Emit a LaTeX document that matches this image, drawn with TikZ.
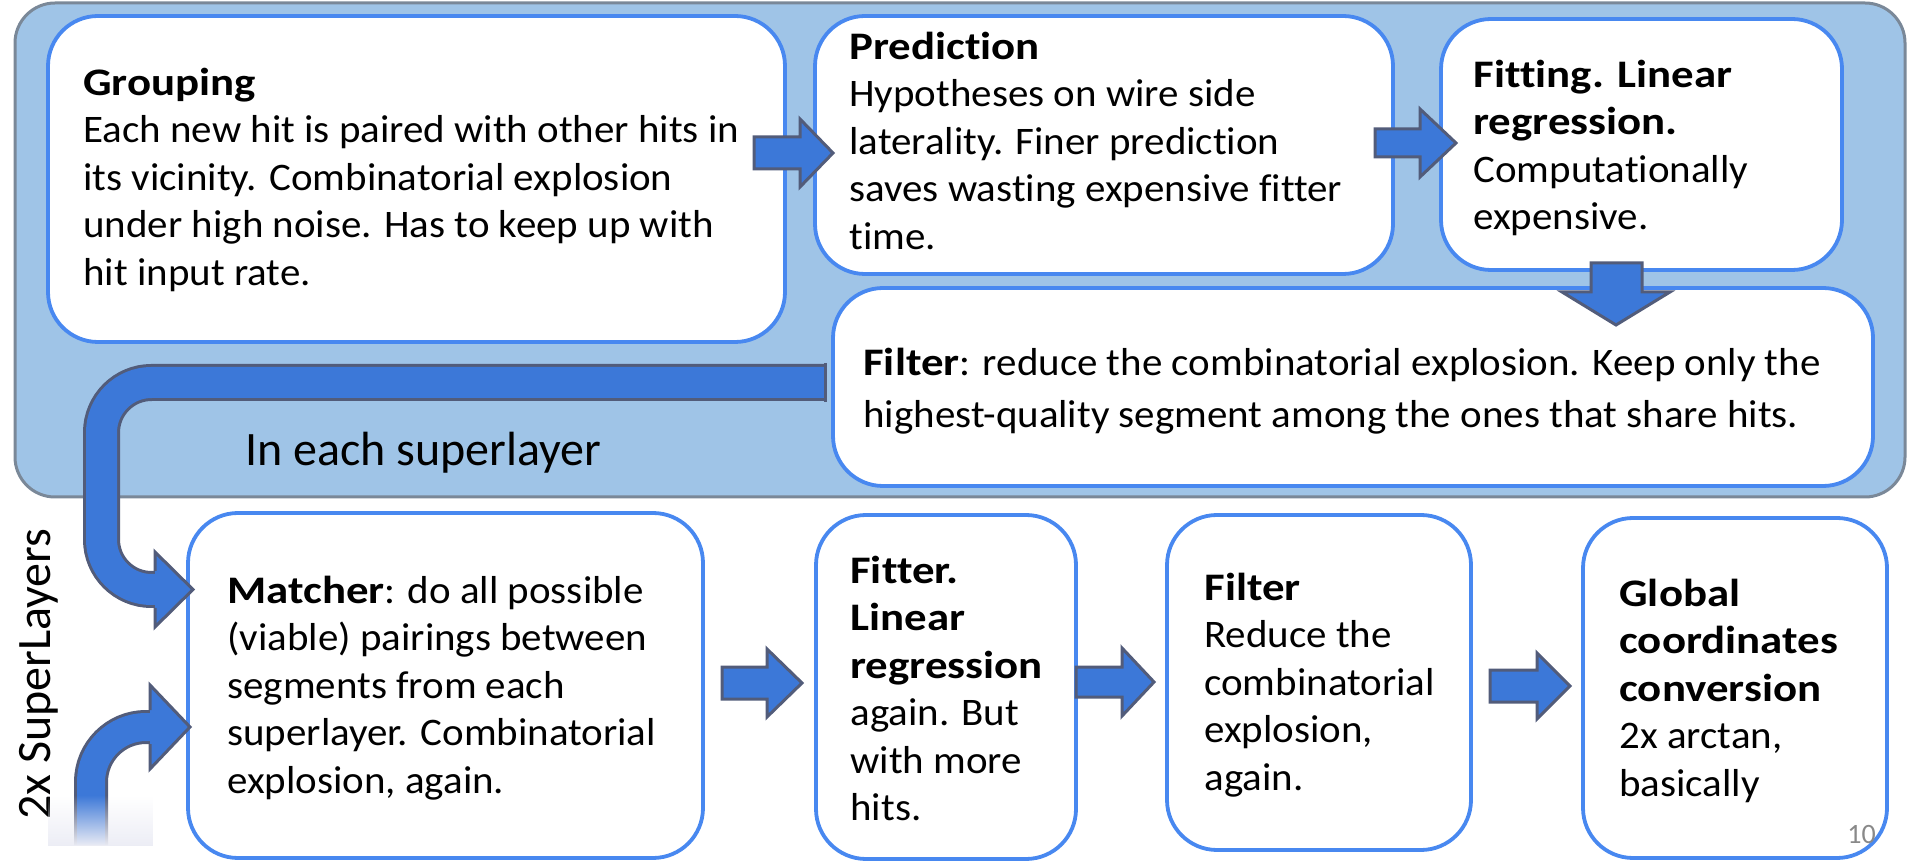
\documentclass[tikz,border=0pt]{standalone}
\usepackage{fontspec}
\setmainfont{Carlito}[FakeStretch=1.05,Ligatures=NoCommon]
\newfontfamily\bcar{Carlito}[FakeStretch=1.15,Ligatures=NoCommon]
\newfontfamily\pcar{Carlito}[Ligatures=NoCommon]
\newcommand{\B}[1]{{\bcar\bfseries #1}}
\usetikzlibrary{fadings}
\definecolor{panelfill}{RGB}{159,196,231}
\definecolor{paneldraw}{RGB}{122,136,152}
\definecolor{boxdraw}{RGB}{72,136,240}
\definecolor{arrfill}{RGB}{60,120,216}
\definecolor{arrdraw}{RGB}{82,92,122}
\definecolor{fadecol}{RGB}{236,237,245}
\definecolor{pagenum}{RGB}{137,137,137}
\newcommand{\fl}{\rule{0pt}{17pt}}
\newcommand{\harr}[6]{\filldraw[blockarr] (#1,#4-#5) -- (#2,#4-#5) -- (#2,#4-#6) -- (#3,#4) -- (#2,#4+#6) -- (#2,#4+#5) -- (#1,#4+#5) -- cycle;}
\begin{document}
\begin{tikzpicture}[x=0.5pt,y=-0.5pt,
  panel/.style={fill=panelfill,draw=paneldraw,line width=1.5pt,rounded corners=20pt},
  box/.style={fill=white,draw=boxdraw,line width=1.9pt,rounded corners=25pt},
  blockarr/.style={fill=arrfill,draw=arrdraw,line width=1.5pt,line join=miter},
  band/.style={double=arrfill,draw=arrdraw,line width=1.5pt},
  txt/.style={anchor=north west,inner sep=0pt,align=left,font=\fontsize{19.5pt}{23.75pt}\selectfont},
  txtw/.style={anchor=north west,inner sep=0pt,align=left,font=\fontsize{19.5pt}{26pt}\selectfont},
  big/.style={anchor=base west,inner sep=0pt,font=\pcar\fontsize{24pt}{28pt}\selectfont}]
\useasboundingbox (0,0) rectangle (1911,865);
% panel
\draw[panel] (15,3) rectangle (1905,497);
% boxes
\draw[box] (48,16) rectangle (785,342);
\draw[box] (815,16) rectangle (1393,274);
\draw[box] (1441,19) rectangle (1842,270);
\draw[box] (833,288) rectangle (1873,486);
\draw[box] (188,513) rectangle (703,858);
\draw[box] (816,515) rectangle (1076,859);
\draw[box] (1167,515) rectangle (1471,850);
\draw[box] (1583,518) rectangle (1887,858);
% texts
\node[txt] (tgrp) at (83,61) {\fl\B{Grouping}\\Each new hit is paired with other hits in\\its vicinity. Combinatorial explosion\\under high noise. Has to keep up with\\hit input rate.};
\node[txt] (tpred) at (849,25) {\fl\B{Prediction}\\Hypotheses on wire side\\laterality. Finer prediction\\saves wasting expensive fitter\\time.};
\node[txt] (tfit) at (1473,53) {\fl\B{Fitting. Linear}\\\B{regression.}\\Computationally\\expensive.};
\node[txtw] (tfilt) at (863,341) {\fl\B{Filter}: reduce the combinatorial explosion. Keep only the\\highest-quality segment among the ones that share hits.};
\node[txt] (tmatch) at (227,569) {\fl\B{Matcher}: do all possible\\(viable) pairings between\\segments from each\\superlayer. Combinatorial\\explosion, again.};
\node[txt] (tfitter) at (850,549) {\fl\B{Fitter.}\\\B{Linear}\\\B{regression}\\again. But\\with more\\hits.};
\node[txt] (tfilt2) at (1204,566) {\fl\B{Filter}\\Reduce the\\combinatorial\\explosion,\\again.};
\node[txt] (tglob) at (1619,572) {\fl\B{Global}\\\B{coordinates}\\\B{conversion}\\2x arctan,\\basically};
\node[big] (layer) at (245,466) {In each superlayer};
\node[big,rotate=90] (twox) at (50,820) {2x SuperLayers};
\node[anchor=base west,inner sep=0pt,text=pagenum,font=\pcar\fontsize{14pt}{16pt}\selectfont] (pnum) at (1847,843) {10};
% big U arrow
\draw[band,double distance=15.5pt,rounded corners=25pt] (826,382.5) -- (101.5,382.5) -- (101.5,589.5) -- (160,589.5);
\draw[arrdraw,line width=1.5pt] (825.5,363) -- (825.5,402);
\filldraw[blockarr] (155,571) -- (155,552) -- (193,589.5) -- (155,627) -- (155,608);
% small curved arrow from below
\draw[band,double distance=14pt,rounded corners=27.5pt] (91,845) -- (91,727) -- (155,727);
\filldraw[blockarr] (150,710) -- (150,685) -- (190,727) -- (150,769) -- (150,744);
\fill[fadecol,path fading=north] (48,795) rectangle (153,846);
% block arrows
\harr{754}{800}{833}{153}{16}{34}
\harr{1375}{1420}{1456}{143}{14}{34}
\harr{722}{767}{802}{683}{16}{34}
\harr{1076}{1122}{1154}{682}{15}{34}
\harr{1490}{1537}{1570}{686}{16}{33}
\filldraw[blockarr] (1591,263) -- (1642,263) -- (1642,292) -- (1670,292) -- (1616,325) -- (1562,292) -- (1591,292) -- cycle;
\end{tikzpicture}
\end{document}
